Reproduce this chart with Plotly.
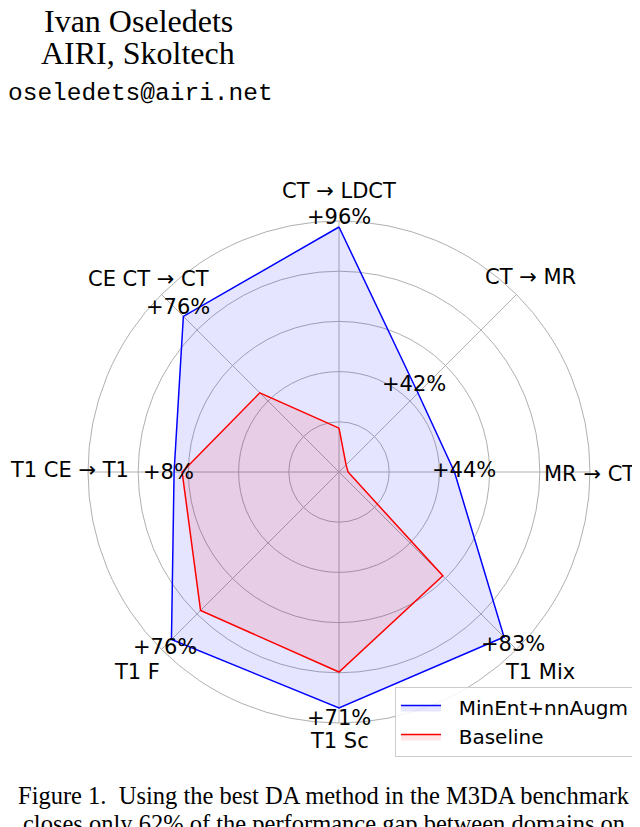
import math
import plotly.graph_objs as go

# categories (clockwise from the top) and normalised scores
categories = ["CT → LDCT", "CT → MR", "MR → CT", "T1 Mix", "T1 Sc", "T1 F", "T1 CE → T1", "CE CT → CT"]
minent_nnaugm = [0.976, 0.445, 0.46, 0.93, 0.94, 0.944, 0.657, 0.877]
baseline = [0.175, 0.04, 0.036, 0.585, 0.797, 0.78, 0.625, 0.446]
gap_closed = ["+96%", "+42%", "+44%", "+83%", "+71%", "+76%", "+8%", "+76%"]

# where the texts sit (radius, angle in degrees)
cat_label_r = [1.12, 1.09, 1.0, 1.13, 1.07, 1.13, 1.075, 1.08]
cat_label_theta = [0, 44.4, 90.5, 134.9, 180, 225.3, 270.5, 315.5]
gain_label_r = [1.016, 0.46, 0.50, 0.975, 0.98, 0.983, 0.68, 0.917]
gain_label_theta = [0, 40.5, 89, 134.7, 180, 224.8, 270, 315.7]

n = len(categories)
theta = [i * 360 / n for i in range(n)]
theta_closed = theta + theta[:1]

W, H = 640, 827
# polar circle: centre and radius in pixels
CX, CY, R = 331, 464, 251

FONT = "DejaVu Sans"
SERIF = "Liberation Serif"

fig = go.Figure()

traces = [
    go.Scatterpolar(r=minent_nnaugm + minent_nnaugm[:1], theta=theta_closed,
                    mode="lines", name="\u00a0\u00a0MinEnt+nnAugm",
                    line=dict(color="#0000ff", width=1.5),
                    fill="toself", fillcolor="rgba(0,0,255,0.1)"),
    go.Scatterpolar(r=baseline + baseline[:1], theta=theta_closed,
                    mode="lines", name="\u00a0\u00a0Baseline",
                    line=dict(color="#ff0000", width=1.5),
                    fill="toself", fillcolor="rgba(255,0,0,0.1)"),
]
fig.add_traces(traces)

layout = go.Layout(
    width=W, height=H,
    margin=dict(l=0, r=0, t=0, b=0),
    paper_bgcolor="white",
    showlegend=True,
    polar=dict(
        domain=dict(x=[(CX - R) / W, (CX + R) / W], y=[1 - (CY + R) / H, 1 - (CY - R) / H]),
        bgcolor="white",
        radialaxis=dict(range=[0, 1], tickvals=[0.2, 0.4, 0.6, 0.8, 1.0],
                        showticklabels=False, ticks="", showline=False,
                        gridcolor="#b0b0b0", gridwidth=1),
        angularaxis=dict(direction="clockwise", rotation=90,
                         tickvals=theta, showticklabels=False, ticks="",
                         showline=True, linecolor="#b0b0b0", linewidth=1,
                         gridcolor="#b0b0b0", gridwidth=1),
    ),
    legend=dict(x=387 / W, y=1 - 679 / H, xanchor="left", yanchor="top",
                bgcolor="rgba(255,255,255,0.85)", bordercolor="#cccccc", borderwidth=1,
                itemwidth=40, tracegroupgap=0,
                font=dict(family=FONT, size=20, color="black")),
)
fig.update_layout(layout)


def polar_text(txt, r, t):
    # place a text at (r, angle) of the polar circle
    a = math.radians(t)
    fig.add_annotation(text=txt, x=(CX + r * R * math.sin(a)) / W, y=1 - (CY - r * R * math.cos(a)) / H,
                       xref="paper", yref="paper", xanchor="center", yanchor="middle",
                       showarrow=False, font=dict(family=FONT, size=21, color="black"))


# category names around the outside, gap closed near the vertices
for name, r, t in zip(categories, cat_label_r, cat_label_theta):
    polar_text(name, r, t)
for g, r, t in zip(gap_closed, gain_label_r, gain_label_theta):
    polar_text(g, r, t)


# header and caption text from the page
def page_text(txt, x, y, family, size):
    fig.add_annotation(text=txt, x=x / W, y=1 - y / H, xref="paper", yref="paper",
                       xanchor="center", yanchor="middle", showarrow=False,
                       font=dict(family=family, size=size, color="black"))


page_text("Ivan Oseledets", 130, 13, SERIF, 32)
page_text("AIRI, Skoltech", 130, 45, SERIF, 32)
page_text("oseledets@airi.net", 132, 85, "Liberation Mono", 24.5)
page_text("Figure 1.\u00a0 Using the best DA method in the M3DA benchmark", 316, 787, SERIF, 24.5)
page_text("closes only 62% of the performance gap between domains on", 316, 815, SERIF, 24.5)

fig.write_html("out.html")
